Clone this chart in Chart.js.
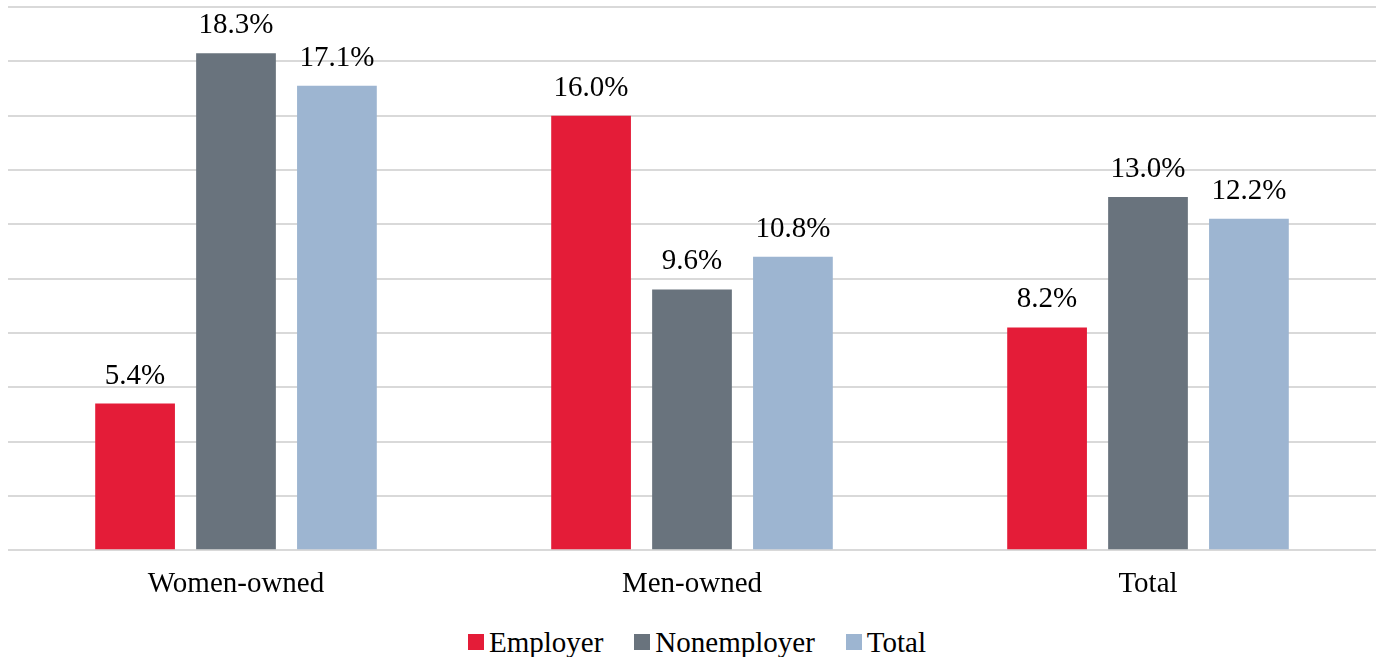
<!DOCTYPE html>
<html>
<head>
<meta charset="utf-8">
<script src="https://cdn.jsdelivr.net/npm/chart.js@4"></script>
<style>
    body { margin: 0; background: #fff; }
    #wrap { position: relative; width: 1382px; height: 657px; }
    #chartBox { position: absolute; left: 0; top: 0; width: 1382px; height: 619px; }
    #legend {
        position: absolute; left: 6px; top: 624px; width: 1382px; height: 36px;
        display: flex; justify-content: center; align-items: center;
        font-family: "Liberation Serif", "Times New Roman", serif; font-size: 29px; color: #000;
    }
    .item { display: flex; align-items: center; margin: 0 15.5px; }
    .swatch { width: 16px; height: 16px; margin-right: 5px; }
</style>
</head>
<body>
<div id="wrap">
    <div id="chartBox"><canvas id="growthChart"></canvas></div>
    <div id="legend"></div>
</div>
<script>
// Categories and series
const categories = ['Women-owned', 'Men-owned', 'Total'];
const employer = [5.4, 16.0, 8.2];
const nonemployer = [18.3, 9.6, 13.0];
const total = [17.1, 10.8, 12.2];
const seriesNames = ['Employer', 'Nonemployer', 'Total'];
const seriesColors = ['#E41C38', '#69737D', '#9DB5D1'];

const serif = '"Liberation Serif", "Times New Roman", serif';

// Draws the percentage above each bar
const barLabels = {
    id: 'barLabels',
    afterDatasetsDraw(chart) {
        const ctx = chart.ctx;
        ctx.save();
        ctx.font = '29px ' + serif;
        ctx.fillStyle = '#000';
        ctx.textAlign = 'center';
        ctx.textBaseline = 'alphabetic';
        chart.data.datasets.forEach((ds, i) => {
            chart.getDatasetMeta(i).data.forEach((bar, j) => {
                ctx.fillText(ds.data[j].toFixed(1) + '%', bar.x, bar.y - 20);
            });
        });
        ctx.restore();
    }
};

const ctx = document.getElementById('growthChart').getContext('2d');
const growthChart = new Chart(ctx, {
    type: 'bar',
    data: {
        labels: categories,
        datasets: [employer, nonemployer, total].map((values, i) => ({
            label: seriesNames[i],
            data: values,
            backgroundColor: seriesColors[i],
            categoryPercentage: 0.664,
            barPercentage: 0.79
        }))
    },
    options: {
        responsive: true,
        maintainAspectRatio: false,
        animation: false,
        layout: { padding: { left: 8, right: 6, top: 7, bottom: 0 } },
        plugins: {
            legend: { display: false },
            tooltip: { enabled: false }
        },
        scales: {
            x: {
                grid: { display: false, drawTicks: false },
                border: { display: false },
                ticks: {
                    color: '#000',
                    padding: 17,
                    font: { family: serif, size: 29 }
                }
            },
            y: {
                min: 0,
                max: 20,
                ticks: { display: false, stepSize: 2 },
                border: { display: false },
                grid: { color: '#D9D9D9', lineWidth: 2, drawTicks: false }
            }
        }
    },
    plugins: [barLabels]
});

// Legend row under the chart
const legend = document.getElementById('legend');
seriesNames.forEach((name, i) => {
    const item = document.createElement('div');
    item.className = 'item';
    item.innerHTML = '<span class="swatch" style="background:' + seriesColors[i] + '"></span>' + name;
    legend.appendChild(item);
});
</script>
</body>
</html>
